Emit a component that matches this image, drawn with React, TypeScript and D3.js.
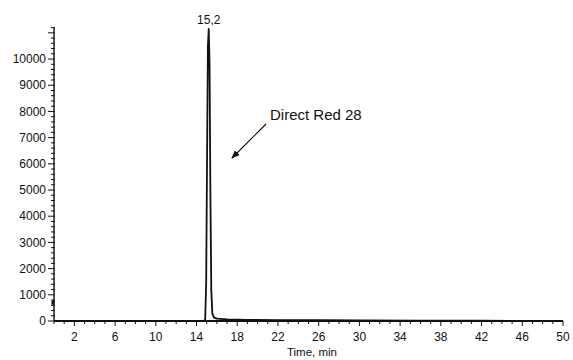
import React from "react";
import * as d3 from "d3";

const times = [0, 5, 10, 14.6, 14.85, 14.95, 15.05, 15.12, 15.2, 15.28, 15.36, 15.45, 15.55, 15.7, 16, 17, 19, 22, 26, 30, 36, 42, 50];
const intensity = [0, 0, 0, 0, 20, 1500, 7000, 10500, 11150, 9800, 5000, 1200, 300, 140, 90, 60, 45, 35, 28, 22, 15, 10, 5];
const xLabels = [2, 6, 10, 14, 18, 22, 26, 30, 34, 38, 42, 46, 50];
const yLabels = [0, 1000, 2000, 3000, 4000, 5000, 6000, 7000, 8000, 9000, 10000];
const peakLabel = "15,2";
const peakTime = 15.2;
const peakValue = 11150;
const compoundName = "Direct Red 28";
const xTitle = "Time, min";
const axisMarkValue = 700;

export default function App() {
  const W = 573, H = 360;
  const x = d3.scaleLinear().domain([0, 50]).range([54, 563]);
  const y = d3.scaleLinear().domain([0, 11200]).range([321, 27.6]);
  const line = d3.line<number>().x((_, i) => x(times[i])).y((d) => y(d));
  const xMinor = d3.range(0, 51, 1);
  const yMinor = d3.range(0, 11201, 200);
  const font = "'Liberation Sans', Arial, sans-serif";
  return (
    <svg width={W} height={H} style={{ position: "absolute", left: 0, top: 0, background: "#fff" }}>
      <defs>
        <marker id="ah" viewBox="0 0 10 10" refX="9" refY="5" markerWidth="7" markerHeight="7" orient="auto">
          <path d="M0,1 L10,5 L0,9 z" fill="#111" />
        </marker>
      </defs>
      {/* y axis */}
      <line x1={x(0)} x2={x(0)} y1={y(0)} y2={y(11200)} stroke="#111" strokeWidth={1.4} />
      {yMinor.map((v) => {
        const major = v % 1000 === 0;
        return <line key={"ym" + v} x1={x(0) - (major ? 6 : 3)} x2={x(0) + 1} y1={y(v)} y2={y(v)} stroke="#111" strokeWidth={1} />;
      })}
      {yLabels.map((v) => (
        <text key={"yl" + v} x={x(0) - 8} y={y(v)} dy="0.35em" textAnchor="end" fontFamily={font} fontSize={12} fill="#111">
          {v}
        </text>
      ))}
      <rect x={x(0) - 2.5} y={y(axisMarkValue) - 2} width={3} height={4} fill="#111" />
      {/* x axis */}
      <line x1={x(0)} x2={x(50)} y1={y(0)} y2={y(0)} stroke="#111" strokeWidth={1.8} />
      {xMinor.map((v) => {
        const major = xLabels.includes(v);
        return <line key={"xm" + v} x1={x(v)} x2={x(v)} y1={y(0)} y2={y(0) + (major ? 5 : 3)} stroke="#111" strokeWidth={1} />;
      })}
      {xLabels.map((v) => (
        <text key={"xl" + v} x={x(v)} y={y(0) + 16} dy="0.35em" textAnchor="middle" fontFamily={font} fontSize={12} fill="#111">
          {v}
        </text>
      ))}
      <text x={312} y={352} dy="0.35em" textAnchor="middle" fontFamily={font} fontSize={11.5} fill="#111">
        {xTitle}
      </text>
      {/* trace */}
      <path d={line(intensity) || ""} fill="none" stroke="#111" strokeWidth={1.8} strokeLinejoin="round" />
      <text x={x(peakTime)} y={y(peakValue) - 9} dy="0.35em" textAnchor="middle" fontFamily={font} fontSize={12} fill="#111">
        {peakLabel}
      </text>
      {/* annotation */}
      <text x={270} y={115} dy="0.35em" fontFamily={font} fontSize={15} fill="#111">
        {compoundName}
      </text>
      <line x1={266} y1={124} x2={232} y2={158} stroke="#111" strokeWidth={1.2} markerEnd="url(#ah)" />
    </svg>
  );
}
